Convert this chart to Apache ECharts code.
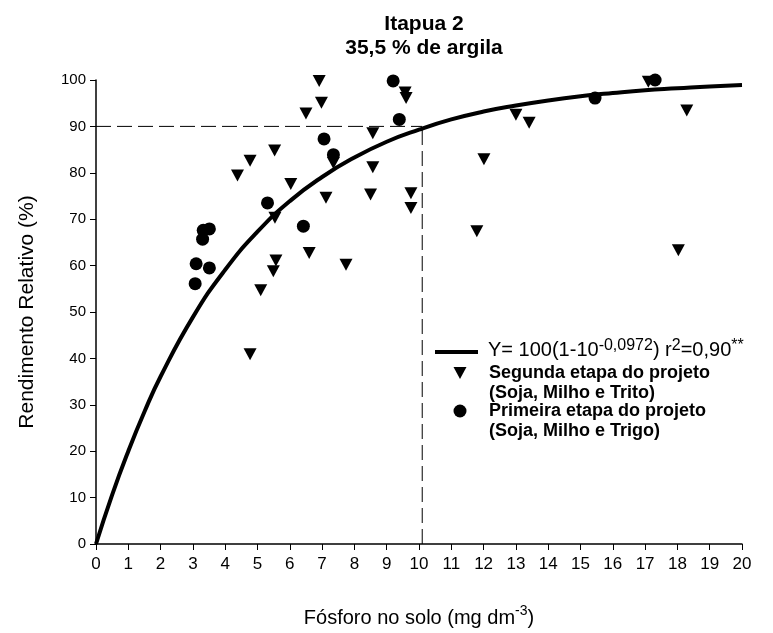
<!DOCTYPE html>
<html>
<head>
<meta charset="utf-8">
<script src="https://cdn.jsdelivr.net/npm/echarts@6/dist/echarts.min.js"></script>
<style>html,body{margin:0;padding:0;background:#fff}#c{width:773px;height:633px}</style>
</head>
<body>
<div id="c"></div>
<script>
// Segunda etapa do projeto (triangles)
const segX = [4.77, 5.10, 5.49, 5.57, 6.60, 7.74, 5.54, 6.03, 4.38, 4.77, 5.53, 6.50, 6.91, 6.98, 7.12, 7.35, 8.50, 8.57, 8.57, 9.57, 9.60, 9.75, 9.75, 11.79, 12.01, 13.00, 13.41, 17.10, 18.03, 18.29];
const segY = [40.9, 54.7, 58.8, 61.1, 62.7, 60.2, 70.3, 77.6, 79.4, 82.6, 84.8, 92.8, 99.8, 95.1, 74.6, 82.1, 75.3, 81.2, 88.5, 97.3, 96.1, 75.6, 72.4, 67.4, 82.9, 92.5, 90.8, 99.6, 63.3, 93.4];
// Primeira etapa do projeto (circles)
const primX = [3.07, 3.10, 3.30, 3.32, 3.51, 3.51, 5.31, 6.42, 7.06, 7.35, 9.20, 9.39, 15.45, 17.31];
const primY = [56.1, 60.4, 65.7, 67.6, 67.9, 59.5, 73.5, 68.5, 87.3, 83.9, 99.8, 91.5, 96.1, 100.0];
// fitted curve
const curveX = [0, 0.5, 1, 1.5, 2, 3, 4, 5, 6, 7, 8, 9, 10, 11, 12, 13, 14, 15, 16, 17, 18, 19, 20];
const curveY = [0, 10.6, 20.0, 28.5, 36.1, 48.9, 59.1, 67.3, 73.9, 79.1, 83.3, 86.7, 89.3, 91.5, 93.2, 94.5, 95.6, 96.5, 97.2, 97.8, 98.2, 98.6, 98.9];
// reference (dashed) lines
const refX = 10.1;
const refY = 90;
const xTicks = {min: 0, max: 20, interval: 1};
const yTicks = {min: 0, max: 100, interval: 10};

const zip = (a, b) => a.map((v, i) => [v, b[i]]);
const FONT = 'Liberation Sans, Arial, sans-serif';

const chart = echarts.init(document.getElementById('c'), null, {renderer: 'canvas'});
const dashStyle = {color: '#000', width: 1, type: [15, 6]};

chart.setOption({
  animation: false,
  backgroundColor: '#fff',
  title: {
    text: 'Itapua 2\n35,5 % de argila',
    left: 419, top: 7, textAlign: 'center',
    textStyle: {fontFamily: FONT, fontSize: 21, fontWeight: 'bold', color: '#000', lineHeight: 24}
  },
  grid: {left: 96, right: 31, top: 80, bottom: 88, containLabel: false},
  xAxis: {
    type: 'value', min: xTicks.min, max: xTicks.max, interval: xTicks.interval,
    name: '{a|Fósforo no solo (mg dm}{b|-3}{a|)}',
    nameLocation: 'middle', nameGap: 60,
    nameTextStyle: {
      rich: {
        a: {fontFamily: FONT, fontSize: 20, color: '#000', verticalAlign: 'bottom', lineHeight: 24},
        b: {fontFamily: FONT, fontSize: 14, color: '#000', verticalAlign: 'top', lineHeight: 24}
      }
    },
    axisLine: {show: true, onZero: false, lineStyle: {color: '#000', width: 1.5}},
    axisTick: {show: true, inside: false, length: 6, lineStyle: {color: '#000', width: 1}},
    axisLabel: {fontFamily: FONT, fontSize: 17, color: '#000', margin: 12},
    splitLine: {show: false}
  },
  yAxis: {
    type: 'value', min: yTicks.min, max: yTicks.max, interval: yTicks.interval,
    name: 'Rendimento Relativo (%)', nameLocation: 'middle', nameGap: 58,
    nameTextStyle: {fontFamily: FONT, fontSize: 21, color: '#000'},
    axisLine: {show: true, onZero: false, lineStyle: {color: '#000', width: 1.5}},
    axisTick: {show: true, inside: false, length: 6, lineStyle: {color: '#000', width: 1}},
    axisLabel: {fontFamily: FONT, fontSize: 15, color: '#000', margin: 10},
    splitLine: {show: false}
  },
  series: [
    {
      name: 'refH', type: 'line', data: [[0, refY], [refX, refY]],
      symbol: 'none', lineStyle: dashStyle, silent: true, z: 1
    },
    {
      name: 'refV', type: 'line', data: [[refX, 0], [refX, refY]],
      symbol: 'none', lineStyle: dashStyle, silent: true, z: 1
    },
    {
      name: 'curve', type: 'line', data: zip(curveX, curveY),
      symbol: 'none', smooth: 0.5,
      lineStyle: {color: '#000', width: 4}, z: 2
    },
    {
      name: 'Segunda', type: 'scatter', data: zip(segX, segY),
      symbol: 'triangle', symbolRotate: 180, symbolSize: [13, 12],
      itemStyle: {color: '#000', opacity: 1}, clip: false, z: 3
    },
    {
      name: 'Primeira', type: 'scatter', data: zip(primX, primY),
      symbol: 'circle', symbolSize: 13,
      itemStyle: {color: '#000', opacity: 1}, clip: false, z: 3
    }
  ],
  graphic: [
    {type: 'line', shape: {x1: 435, y1: 352, x2: 478, y2: 352}, style: {stroke: '#000', lineWidth: 4}},
    {
      type: 'text', x: 488, y: 349,
      style: {
        text: '{n|Y= 100(1-10}{s|-0,0972}{n|) r}{s|2}{n|=0,90}{s|**}',
        verticalAlign: 'middle',
        rich: {
          n: {fontFamily: FONT, fontSize: 20, fill: '#000', verticalAlign: 'bottom', lineHeight: 22},
          s: {fontFamily: FONT, fontSize: 16, fill: '#000', verticalAlign: 'top', lineHeight: 22}
        }
      }
    },
    {type: 'polygon', shape: {points: [[453.5, 367], [466.5, 367], [460, 379]]}, style: {fill: '#000'}},
    {
      type: 'text', x: 489, y: 363,
      style: {text: 'Segunda etapa do projeto\n(Soja, Milho e Trito)', font: 'bold 18px ' + FONT, fill: '#000', lineHeight: 20, verticalAlign: 'top'}
    },
    {type: 'circle', shape: {cx: 460, cy: 411, r: 6.5}, style: {fill: '#000'}},
    {
      type: 'text', x: 489, y: 401,
      style: {text: 'Primeira etapa do projeto\n(Soja, Milho e Trigo)', font: 'bold 18px ' + FONT, fill: '#000', lineHeight: 20, verticalAlign: 'top'}
    }
  ]
});
</script>
</body>
</html>
